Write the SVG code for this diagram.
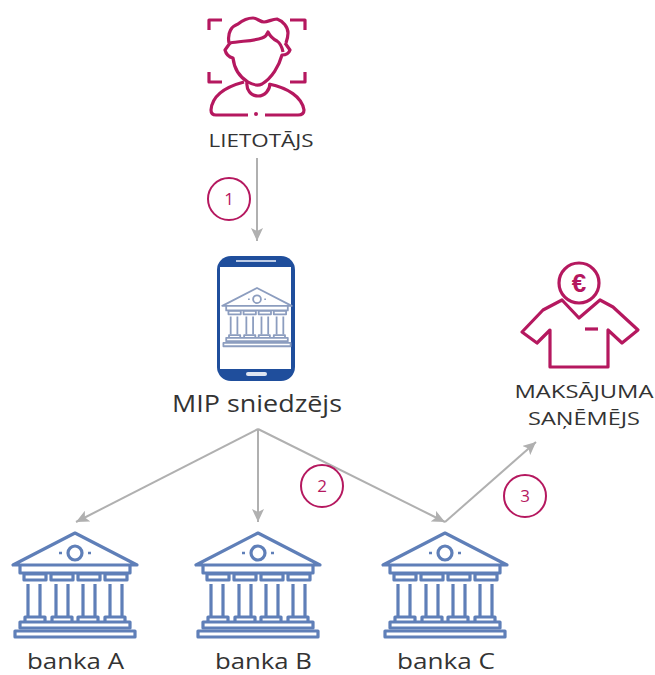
<svg xmlns="http://www.w3.org/2000/svg" width="655" height="675" viewBox="0 0 655 675">
<style>
.t{font-family:"Open Sans","Liberation Sans",sans-serif;fill:#333;text-anchor:middle}
.m{fill:none;stroke:#b5185f;stroke-width:3.2;stroke-linejoin:round;stroke-linecap:butt}
.c{fill:#fff;stroke:#b5185f;stroke-width:2}
.n{font-family:"Open Sans","Liberation Sans",sans-serif;font-size:17px;fill:#b5185f;text-anchor:middle}
.l{fill:none;stroke:#b0b0b0;stroke-width:2}
.b{fill:none;stroke:#5f7fb8;stroke-width:3.2;stroke-linejoin:round}
</style>
<defs>
<marker id="a" markerUnits="userSpaceOnUse" markerWidth="14" markerHeight="12" refX="13" refY="6" orient="auto"><path d="M0 0L13 6L0 12L3 6Z" fill="#b0b0b0"/></marker>
<g id="bank">
<path d="M0 0L-62 32H62Z"/>
<path d="M-55 32V40H55V32"/>
<circle cx="0" cy="20" r="7"/>
<path d="M-16 20h3M13 20h3" stroke-width="2.5"/>
<rect x="-51" y="41" width="22" height="6"/><rect x="-24" y="41" width="22" height="6"/><rect x="3" y="41" width="22" height="6"/><rect x="30" y="41" width="22" height="6"/>
<path d="M-47 51V83M-35 51V83M-19 51V83M-7 51V83M8 51V83M20 51V83M35 51V83M47 51V83"/>
<path d="M-50 89V84H-30V89M-23 89V84H-3V89M3 89V84H23V89M30 89V84H50V89"/>
<rect x="-55" y="89" width="110" height="6"/>
<rect x="-60" y="98" width="120" height="6"/>
</g>
</defs>
<rect width="655" height="675" fill="#fff"/>
<g id="connectors">
<path class="l" d="M257 158V241" marker-end="url(#a)"/>
<path class="l" d="M258 429L76 522" marker-end="url(#a)"/>
<path class="l" d="M258 429V522" marker-end="url(#a)"/>
<path class="l" d="M258 429L445 522" marker-end="url(#a)"/>
<path class="l" d="M445 522L536 442" marker-end="url(#a)"/>
</g>
<g id="lietotajs">
<path class="m" d="M209 30V20H222M290 20H305V30M209 72V82H222M305 72V82H290"/>
<path class="m" d="M229 43C227 32 232 26 238 24C243 20 248 18 253 18C257 18 260 22 264 22C268 22 272 19 277 19C283 21 288 27 288 33C288 37 287 40 286 43"/>
<path class="m" d="M230 43C240 41 254 41 262 38C265 37 267 35 268 32C270 36 273 39 277 41C280 43 282 47 283 52"/>
<path class="m" d="M230 43L225 50C226 54 229 57 233 58C234 67 238 76 248 82C253 85 258 86 262 84C272 78 279 66 282 55C286 55 289 53 290 50L285 43"/>
<path class="m" d="M247 82C246 90 251 96 258 96C265 96 270 90 270 83"/>
<path class="m" d="M244 82C225 87 212 96 211 110C211 113 212 115 216 115H248M265 115H298C302 115 304 113 304 110C302 97 288 88 269 84"/>
<circle cx="256" cy="114" r="2" fill="#b5185f"/>
<text class="t" x="261" y="147" font-size="18" textLength="105" lengthAdjust="spacingAndGlyphs">LIETOTĀJS</text>
</g>
<g id="step1"><circle class="c" cx="229" cy="199" r="21"/><text class="n" x="229" y="205">1</text></g>
<g id="mip">
<rect x="217" y="256" width="78" height="125" rx="14" fill="#1f4e9c"/>
<rect x="220" y="267" width="71" height="102" fill="#fff"/>
<rect x="246" y="372" width="21" height="4" rx="2" fill="#dfe6f2"/>
<rect x="236" y="260" width="40" height="2" fill="#bccbe6"/>
<use href="#bank" transform="translate(257 288) scale(.56)" class="b" style="stroke:#8c9dbf"/>
<text class="t" x="257" y="412" font-size="23" textLength="170" lengthAdjust="spacingAndGlyphs">MIP sniedzējs</text>
</g>
<g id="sanemejs">
<circle class="m" cx="579" cy="283" r="20"/>
<text x="579" y="292" font-family="Liberation Sans,sans-serif" font-size="26" font-weight="bold" fill="#b5185f" text-anchor="middle">€</text>
<path class="m" d="M562 300L579 318L600 300L613 307L638 330L622 343L608 330V367H550V330L537 343L522 332L543 310Z"/>
<path class="m" d="M585 329H598"/>
<text class="t" x="584" y="398" font-size="19" textLength="139" lengthAdjust="spacingAndGlyphs">MAKSĀJUMA</text>
<text class="t" x="584" y="425" font-size="19" textLength="112" lengthAdjust="spacingAndGlyphs">SAŅĒMĒJS</text>
</g>
<g id="step2"><circle class="c" cx="322" cy="486" r="21"/><text class="n" x="322" y="492">2</text></g>
<g id="step3"><circle class="c" cx="525" cy="496" r="21"/><text class="n" x="525" y="502">3</text></g>
<g id="bankaA"><use href="#bank" x="75" y="533" class="b"/><text class="t" x="75.500" y="668.500" font-size="21.500" textLength="97" lengthAdjust="spacingAndGlyphs">banka A</text></g>
<g id="bankaB"><use href="#bank" x="258" y="533" class="b"/><text class="t" x="263.500" y="668.500" font-size="21.500" textLength="97" lengthAdjust="spacingAndGlyphs">banka B</text></g>
<g id="bankaC"><use href="#bank" x="445" y="533" class="b"/><text class="t" x="446" y="668.500" font-size="21.500" textLength="98" lengthAdjust="spacingAndGlyphs">banka C</text></g>
</svg>
